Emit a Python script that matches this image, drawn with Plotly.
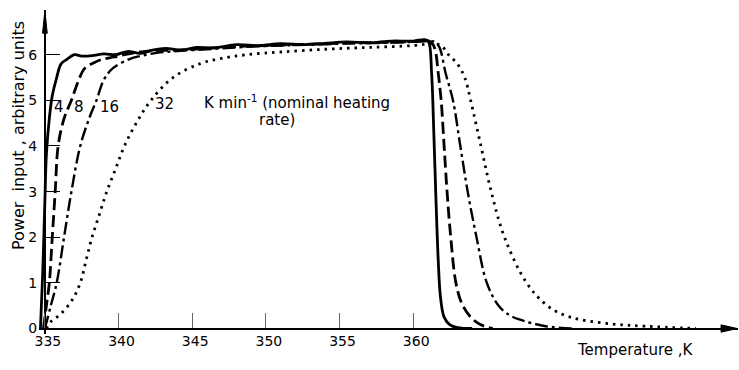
import plotly.graph_objects as go

# ---------------- data ----------------
rate_labels = ["4", "8", "16", "32"]

temp_4 = [334.7, 334.85, 335.0, 335.1, 335.3, 335.5, 335.8, 336.1, 336.5, 337.0, 337.5,
          338.2, 339.0, 339.8, 340.6, 341.5, 342.3, 343.2, 344.2, 345.3, 346.5, 348.0,
          349.5, 351.0, 352.5, 354.0, 355.5, 357.0, 358.5, 360.0, 360.8, 361.05, 361.25,
          361.4, 361.55, 361.7, 361.85, 362.1, 362.5, 363.0, 364.0]
power_4 = [0.0, 1.2, 2.8, 3.8, 4.6, 5.1, 5.5, 5.8, 5.9, 6.0, 5.97,
           5.98, 6.02, 6.0, 6.07, 6.03, 6.1, 6.14, 6.1, 6.16, 6.15, 6.22,
           6.2, 6.24, 6.22, 6.25, 6.28, 6.26, 6.3, 6.3, 6.33, 6.28, 5.6,
           4.3, 2.8, 1.5, 0.7, 0.25, 0.08, 0.02, 0.0]

temp_8 = [334.9, 335.1, 335.3, 335.5, 335.7, 335.9, 336.3, 336.8, 337.3, 337.7, 338.3,
          338.9, 339.7, 340.7, 342.0, 344.0, 346.0, 348.0, 350.0, 352.0, 354.0, 356.0,
          358.0, 360.0, 361.0, 361.3, 361.5, 361.7, 361.9, 362.1, 362.3, 362.55, 362.9,
          363.3, 363.9, 364.6, 365.4]
power_8 = [0.0, 0.5, 1.0, 2.0, 3.0, 4.0, 4.6, 5.0, 5.45, 5.7, 5.82,
           5.9, 5.95, 6.02, 6.08, 6.1, 6.14, 6.18, 6.2, 6.22, 6.24, 6.26,
           6.27, 6.29, 6.31, 6.25, 6.1, 5.6, 5.0, 4.0, 3.0, 2.0, 1.0,
           0.55, 0.25, 0.08, 0.0]

temp_16 = [335.0, 335.4, 335.8, 336.3, 336.8, 337.4, 338.0, 338.5, 339.0, 339.6, 340.7,
           341.6, 342.6, 344.0, 346.0, 348.0, 350.0, 352.0, 354.0, 356.0, 358.0, 360.0,
           361.2, 361.5, 361.8, 362.2, 362.7, 363.2, 363.7, 364.3, 365.0, 365.8, 366.5,
           367.2, 369.0, 371.0]
power_16 = [0.0, 0.5, 1.0, 2.0, 3.0, 4.0, 4.6, 5.0, 5.45, 5.7, 5.9,
            5.98, 6.04, 6.08, 6.12, 6.16, 6.19, 6.21, 6.23, 6.25, 6.26, 6.28,
            6.3, 6.28, 6.15, 5.6, 5.0, 4.0, 3.0, 2.0, 1.0, 0.5, 0.3,
            0.2, 0.05, 0.0]

temp_32 = [335.1, 335.4, 336.0, 336.8, 337.4, 337.8, 338.2, 338.7, 339.2, 339.8, 340.4,
           341.2, 342.2, 343.7, 345.5, 347.0, 348.7, 351.0, 354.0, 357.0, 360.0, 361.3,
           361.9, 362.4, 363.0, 363.5, 363.9, 364.6, 365.3, 366.2, 367.7, 369.1, 370.2,
           371.3, 373.5, 375.8, 379.2]
power_32 = [0.0, 0.15, 0.3, 0.6, 1.0, 1.5, 2.0, 2.5, 3.0, 3.5, 4.0,
            4.5, 5.0, 5.5, 5.8, 5.92, 6.0, 6.06, 6.12, 6.16, 6.2, 6.24,
            6.2, 6.0, 5.8, 5.5, 5.0, 4.0, 3.0, 2.0, 1.0, 0.5, 0.3,
            0.2, 0.1, 0.05, 0.0]

x_tick_vals = [335, 340, 345, 350, 355, 360]
y_tick_vals = [0, 1, 2, 3, 4, 5, 6]

# ---------------- figure ----------------
FONT = "DejaVu Sans"
X_RANGE = [334.6, 382.05]
Y_RANGE = [-0.12, 6.98]
X0, Y0 = 335, 0

series = [
    (temp_4, power_4, dict(color="black", width=2.8, dash="solid")),
    (temp_8, power_8, dict(color="black", width=2.8, dash="12px,5px")),
    (temp_16, power_16, dict(color="black", width=2.4, dash="13px,4px,3px,4px")),
    (temp_32, power_32, dict(color="black", width=2.8, dash="2.5px,5px")),
]

fig = go.Figure()
for (t, p, ln), name in zip(series, rate_labels):
    fig.add_trace(go.Scatter(x=t, y=p, mode="lines", line=ln, name=name,
                             line_shape="spline", showlegend=False, hoverinfo="skip"))

ypos = (X0 - X_RANGE[0]) / (X_RANGE[1] - X_RANGE[0])
xpos = (Y0 - Y_RANGE[0]) / (Y_RANGE[1] - Y_RANGE[0])

fig.update_layout(
    width=739, height=370,
    margin=dict(l=39, r=1, t=10, b=36),
    paper_bgcolor="white", plot_bgcolor="white",
    font=dict(family=FONT, size=14, color="black"),
    xaxis=dict(range=X_RANGE, showgrid=False, zeroline=False,
               anchor="free", position=xpos,
               showline=True, linecolor="black", linewidth=2,
               ticks="inside", ticklen=15, tickwidth=1, tickcolor="#666",
               ticklabelshift=3,
               tickvals=x_tick_vals, ticktext=[str(v) for v in x_tick_vals],
               tickfont=dict(family=FONT, size=14)),
    yaxis=dict(range=Y_RANGE, showgrid=False, zeroline=False,
               anchor="free", position=ypos,
               showline=True, linecolor="black", linewidth=2,
               ticks="inside", ticklen=14, tickwidth=1.2, tickcolor="black",
               ticklabelstandoff=4,
               tickvals=y_tick_vals, ticktext=[str(v) for v in y_tick_vals],
               tickfont=dict(family=FONT, size=14)),
)

# arrow heads on the axes
fig.add_shape(type="path", xref="x", yref="y",
              path="M 334.84,6.47 L 335.16,6.47 L 335,6.97 Z",
              fillcolor="black", line=dict(color="black", width=1))
fig.add_shape(type="path", xref="x", yref="y",
              path="M 380.9,0.08 L 382.0,0 L 380.9,-0.08 Z",
              fillcolor="black", line=dict(color="black", width=1))

# axis titles (paper coordinates, may lie outside the plot area)
fig.add_annotation(x=-0.030, y=0.611, xref="paper", yref="paper", showarrow=False,
                   xanchor="center", yanchor="middle",
                   text="Power  input , arbitrary units", textangle=-90,
                   font=dict(family=FONT, size=16))
fig.add_annotation(x=0.853, y=-0.049, xref="paper", yref="paper", showarrow=False,
                   xanchor="center", yanchor="middle",
                   text="Temperature ,K", font=dict(family=FONT, size=15))

# curve labels
label_pos = [(335.99, 4.85), (337.31, 4.85), (339.39, 4.85), (343.15, 4.92)]
for lab, (lx, ly) in zip(rate_labels, label_pos):
    fig.add_annotation(x=lx, y=ly, xref="x", yref="y", showarrow=False,
                       text=lab, font=dict(family=FONT, size=15))
fig.add_annotation(x=345.67, y=4.96, xref="x", yref="y", showarrow=False, xanchor="left",
                   text="K min<sup>-1</sup> (nominal heating", font=dict(family=FONT, size=15))
fig.add_annotation(x=349.4, y=4.58, xref="x", yref="y", showarrow=False, xanchor="left",
                   text="rate)", font=dict(family=FONT, size=15))

fig.write_html("out.html", config={"displayModeBar": False},
               post_script="document.body.style.margin='0';")
